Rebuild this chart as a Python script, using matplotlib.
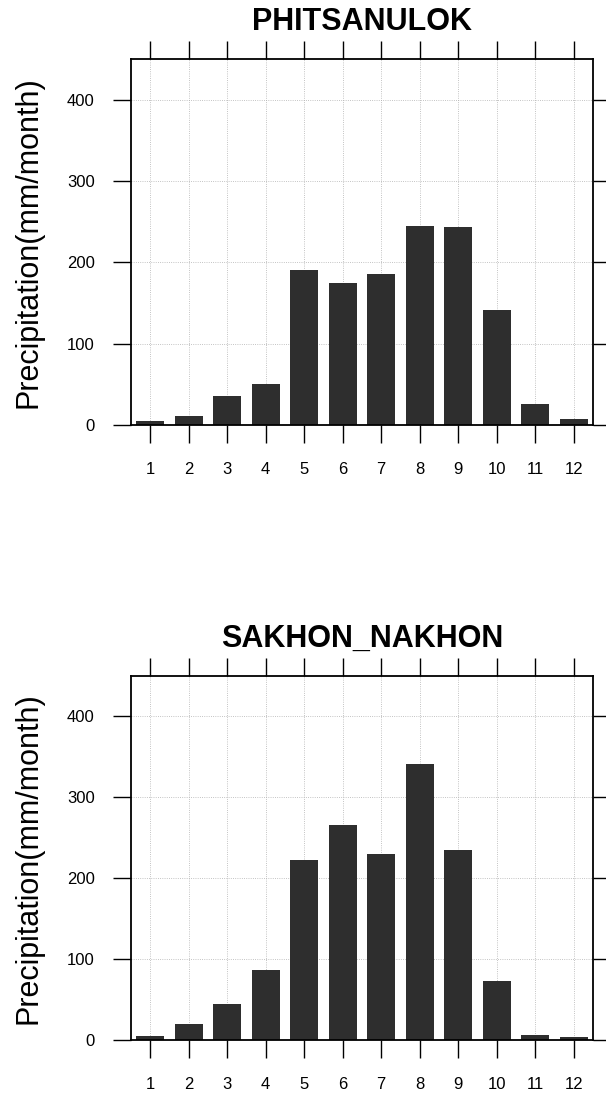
import numpy as np
import matplotlib
matplotlib.use('Agg')
import matplotlib.pyplot as plt

plt.rcParams['font.family'] = ['Liberation Sans', 'DejaVu Sans']

months = np.arange(1, 13)
month_labels = [str(m) for m in months]
yticks = [0, 100, 200, 300, 400]

phitsanulok = [5, 11, 35, 50, 190, 174, 185, 244, 243, 141, 26, 7]
sakhon_nakhon = [5, 20, 44, 87, 222, 266, 230, 341, 235, 73, 6, 4]

stations = ['PHITSANULOK', 'SAKHON_NAKHON']
series = [phitsanulok, sakhon_nakhon]

fig = plt.figure(figsize=(6.06, 10.93), dpi=100)
# axes boxes in figure fractions [left, bottom, width, height]
boxes = [[0.216, 0.6112, 0.7624, 0.3349],
         [0.216, 0.0485, 0.7624, 0.3330]]

for box, name, vals in zip(boxes, stations, series):
    ax = fig.add_axes(box)
    ax.set_axisbelow(True)
    ax.bar(months, vals, width=0.72, color='#2e2e2e', edgecolor='none')
    ax.set_xlim(0.5, 12.5)
    ax.set_ylim(0, 450)
    ax.set_xticks(months)
    ax.set_xticklabels(month_labels)
    ax.set_yticks(yticks)
    ax.grid(True, linestyle=':', color='#b0b0b0', linewidth=0.6)
    ax.tick_params(direction='out', length=13, width=1.0, labelsize=12,
                   top=True, right=True, color='black')
    ax.tick_params(axis='x', pad=14)
    ax.tick_params(axis='y', pad=13)
    for s in ax.spines.values():
        s.set_linewidth(1.3)
    ax.set_title(name, fontsize=22, fontweight='bold', pad=21)
    ax.set_ylabel('Precipitation(mm/month)', fontsize=22)
    ax.yaxis.set_label_coords(-0.19, 0.5)

fig.savefig('out.png', dpi=100)
